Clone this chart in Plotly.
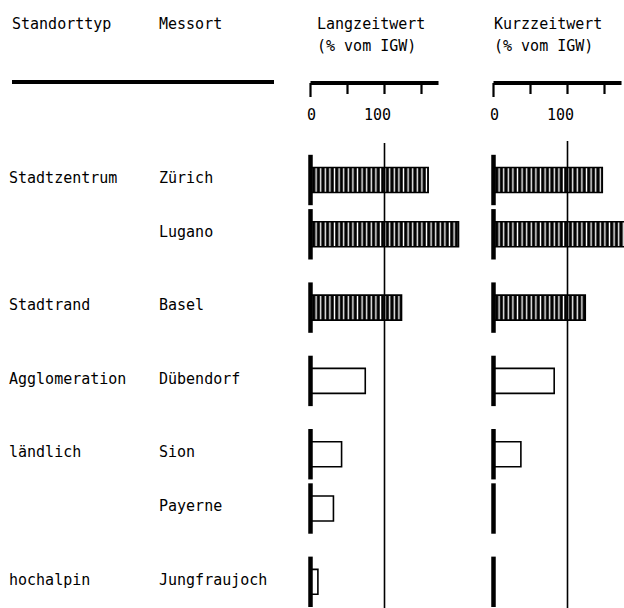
import plotly.graph_objects as go

# ---- data ----
standorttyp = ["Stadtzentrum", "", "Stadtrand", "Agglomeration", "ländlich", "", "hochalpin"]
messort = ["Zürich", "Lugano", "Basel", "Dübendorf", "Sion", "Payerne", "Jungfraujoch"]
gruppe = ["Stadtzentrum", "Stadtzentrum", "Stadtrand", "Agglomeration", "ländlich", "ländlich", "hochalpin"]
langzeit = [159, 200, 123, 74, 42, 31, 10]      # % vom IGW
kurzzeit = [147, 185, 124, 82, 37, 0, 0]        # % vom IGW
scale_ticks = [0, 50, 100, 150]
scale_labels = ["0", "", "100", ""]
scale_max = 173
igw = 100

# ---- layout helpers ----
W, H = 624, 608
FONT = "DejaVu Sans Mono"
PX_PER_UNIT = 0.74          # pixels per % on both panels
ROW_PX = 54.3               # pixels per row step

ypos = []
u = 0.0
for i, g in enumerate(gruppe):
    if i > 0:
        u += 1.0 + (0.35 if g != gruppe[i - 1] else 0.0)
    ypos.append(u)

y_top_px = 180.0
yrange = [(H - y_top_px) / ROW_PX, -y_top_px / ROW_PX]

def px2paper_x(px):
    return px / W

def px2paper_y(py):
    return 1 - py / H

zero_left, zero_right = 310.5, 493.5
dom_l = (300.0, 480.0)
dom_r = (483.0, 624.0)
range_l = [(dom_l[0] - zero_left) / PX_PER_UNIT, (dom_l[1] - zero_left) / PX_PER_UNIT]
range_r = [(dom_r[0] - zero_right) / PX_PER_UNIT, (dom_r[1] - zero_right) / PX_PER_UNIT]

hatched = [g in ("Stadtzentrum", "Stadtrand") for g in gruppe]

fig = go.Figure()

def add_panel(values, xaxis):
    for flag in (True, False):
        xs = [v for v, h in zip(values, hatched) if h == flag]
        ys = [y for y, h in zip(ypos, hatched) if h == flag]
        marker = dict(color="black" if flag else "white",
                      line=dict(color="black", width=1.6))
        if flag:
            marker["pattern"] = dict(shape="|", fgcolor="white", bgcolor="black",
                                     size=4.6, solidity=0.3, fillmode="replace")
        fig.add_trace(go.Bar(x=xs, y=ys, orientation="h", width=0.46,
                             marker=marker, xaxis=xaxis, yaxis="y",
                             hoverinfo="skip"))
    fig.add_trace(go.Scatter(x=[0] * len(values), y=ypos, mode="markers",
                             marker=dict(symbol="line-ns", size=36,
                                         line=dict(color="black", width=4.5)),
                             xaxis=xaxis, yaxis="y", hoverinfo="skip"))

add_panel(langzeit, "x")
add_panel(kurzzeit, "x2")

annotations = []
def txt(s, x, y, xref="paper", yref="paper", xanchor="left", size=15):
    annotations.append(dict(text=s, x=x, xref=xref, y=y, yref=yref,
                            xanchor=xanchor, yanchor="middle", showarrow=False,
                            font=dict(family=FONT, size=size, color="black")))

# headers
txt("Standorttyp", px2paper_x(10), px2paper_y(24))
txt("Messort", px2paper_x(157), px2paper_y(24))
txt("Langzeitwert", px2paper_x(315), px2paper_y(24))
txt("(% vom IGW)", px2paper_x(315), px2paper_y(46))
txt("Kurzzeitwert", px2paper_x(492), px2paper_y(24))
txt("(% vom IGW)", px2paper_x(492), px2paper_y(46))

for s, m, y in zip(standorttyp, messort, ypos):
    if s:
        txt(s, px2paper_x(7), y - 0.04, yref="y")
    txt(m, px2paper_x(157), y - 0.04, yref="y")

shapes = [
    dict(type="line", xref="paper", yref="paper",
         x0=px2paper_x(12), x1=px2paper_x(274), y0=px2paper_y(82), y1=px2paper_y(82),
         line=dict(color="black", width=4)),
    dict(type="line", xref="x", yref="paper", x0=igw, x1=igw,
         y0=0, y1=px2paper_y(143), line=dict(color="black", width=1.6)),
    dict(type="line", xref="x2", yref="paper", x0=igw, x1=igw,
         y0=0, y1=px2paper_y(141), line=dict(color="black", width=1.6)),
]

# scale bars above each panel
label_shift = {"0": 1, "100": -7}
for xr in ("x", "x2"):
    shapes.append(dict(type="line", xref=xr, yref="paper", x0=0, x1=scale_max,
                       y0=px2paper_y(83), y1=px2paper_y(83),
                       line=dict(color="black", width=4)))
    for t, lab in zip(scale_ticks, scale_labels):
        bottom = 97 if t == 0 else 94
        shapes.append(dict(type="line", xref=xr, yref="paper", x0=t, x1=t,
                           y0=px2paper_y(83), y1=px2paper_y(bottom),
                           line=dict(color="black", width=2.2)))
        if lab:
            annotations.append(dict(text=lab, x=t, xref=xr, y=px2paper_y(115),
                                    yref="paper", xanchor="center", yanchor="middle",
                                    xshift=label_shift.get(lab, 0), showarrow=False,
                                    font=dict(family=FONT, size=15, color="black")))

fig.update_layout(
    width=W, height=H,
    margin=dict(l=0, r=0, t=0, b=0),
    paper_bgcolor="white", plot_bgcolor="white",
    showlegend=False, bargap=0,
    xaxis=dict(domain=[px2paper_x(dom_l[0]), px2paper_x(dom_l[1])], range=range_l,
               visible=False, anchor="y", fixedrange=True),
    xaxis2=dict(domain=[px2paper_x(dom_r[0]), px2paper_x(dom_r[1])], range=range_r,
                visible=False, anchor="y", fixedrange=True),
    yaxis=dict(domain=[0, 1], range=yrange, visible=False, fixedrange=True),
    annotations=annotations,
    shapes=shapes,
)

fig.write_html("out.html",
               config={"displayModeBar": False, "staticPlot": True},
               post_script="document.body.style.margin='0';document.body.style.overflow='hidden';")
